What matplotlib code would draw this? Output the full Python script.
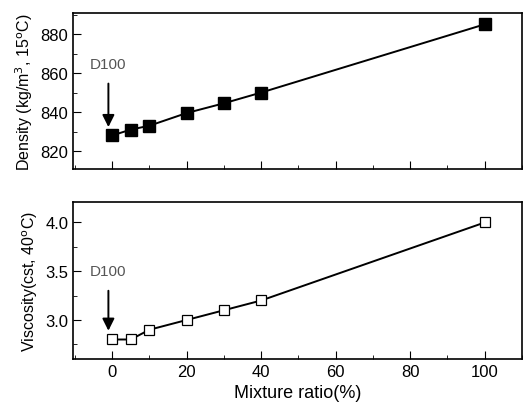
import numpy as np
import matplotlib.pyplot as plt
from matplotlib.ticker import MultipleLocator

plt.rcParams['font.family'] = ['Liberation Sans', 'DejaVu Sans']

ratio = [0, 5, 10, 20, 30, 40, 100]
density = [828, 831, 833, 839.5, 844.5, 850, 885]
viscosity = [2.8, 2.8, 2.9, 3.0, 3.1, 3.2, 4.0]

fig = plt.figure(figsize=(5.26, 4.14), dpi=100)
W, H = 526, 414
ax1 = fig.add_axes([73 / W, 1 - 170 / H, 449 / W, 156 / H])
ax2 = fig.add_axes([73 / W, 1 - 360 / H, 449 / W, 157 / H])

ax1.plot(ratio, density, 'k-', lw=1.4, marker='s', ms=8.5, mfc='black', mec='black')
ax2.plot(ratio, viscosity, 'k-', lw=1.4, marker='s', ms=7.5, mfc='white', mec='black', mew=0.9)

for ax in (ax1, ax2):
    ax.set_xlim(-10.5, 110)
    ax.xaxis.set_major_locator(MultipleLocator(20))
    ax.xaxis.set_minor_locator(MultipleLocator(10))
    ax.tick_params(which='both', direction='in', top=False, right=False, labelsize=12)
    ax.tick_params(which='major', length=6)
    ax.tick_params(which='minor', length=3)
    for s in ax.spines.values():
        s.set_linewidth(1.2)

ax1.set_ylim(810.8, 890.8)
ax1.yaxis.set_major_locator(MultipleLocator(20))
ax1.yaxis.set_minor_locator(MultipleLocator(10))
ax1.tick_params(axis='x', labelbottom=False)
ax1.set_ylabel('Density (kg/m$^3$, 15$^\\mathrm{o}$C)', fontsize=11.5)

ax2.set_ylim(2.6, 4.21)
ax2.yaxis.set_major_locator(MultipleLocator(0.5))
ax2.yaxis.set_minor_locator(MultipleLocator(0.25))
ax2.yaxis.set_major_formatter(plt.FormatStrFormatter('%.1f'))
ax2.set_ylabel('Viscosity(cst, 40$^\\mathrm{o}$C)', fontsize=11.5)
ax2.set_xlabel('Mixture ratio(%)', fontsize=13)

ax1.annotate('D100', xy=(-1, 832.3), xytext=(-1, 864.6), ha='center', va='center',
             fontsize=11, color='#555555',
             arrowprops=dict(arrowstyle='-|>', color='black', lw=1.4, mutation_scale=18,
                             shrinkA=7, shrinkB=0))
ax2.annotate('D100', xy=(-1, 2.89), xytext=(-1, 3.50), ha='center', va='center',
             fontsize=11, color='#555555',
             arrowprops=dict(arrowstyle='-|>', color='black', lw=1.4, mutation_scale=18,
                             shrinkA=7, shrinkB=0))

fig.align_ylabels([ax1, ax2])
fig.savefig('out.png', dpi=100)
